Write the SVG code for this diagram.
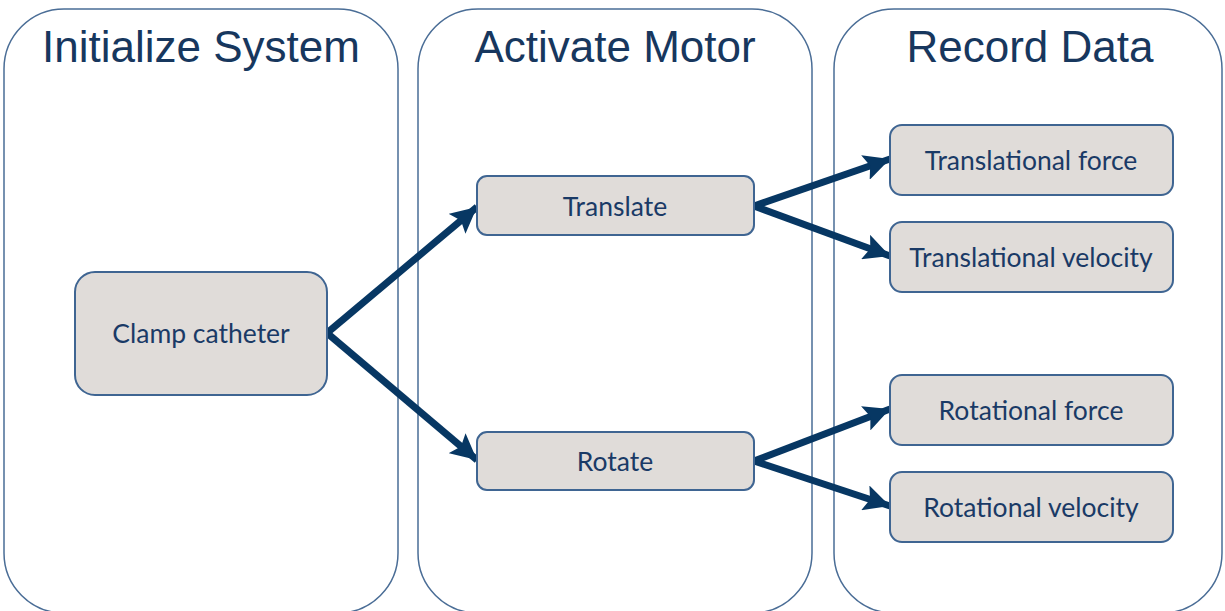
<svg xmlns="http://www.w3.org/2000/svg" width="1225" height="611" viewBox="0 0 1225 611">
  <style>
    .lane { fill: #ffffff; stroke: #4a6d96; stroke-width: 1.5; }
    .lane-title { font-family: "Liberation Sans", Arial, sans-serif; font-size: 44px; fill: #17375e; text-anchor: middle; }
    .box { fill: #e0dcd9; stroke: #3f6592; stroke-width: 2; }
    .label { font-family: Lato, "Open Sans", sans-serif; font-size: 26.5px; fill: #1a3a66; text-anchor: middle; dominant-baseline: central; }
    .edge { fill: none; stroke: #073763; stroke-width: 7; }
  </style>
  <defs>
    <marker id="arrow" markerUnits="userSpaceOnUse" markerWidth="28" markerHeight="26" refX="26" refY="13" orient="auto">
      <path d="M0,0 L26,13 L0,26 L5,13 Z" fill="#073763"/>
    </marker>
  </defs>

  <rect width="1225" height="611" fill="#ffffff"/>

  <!-- swimlanes -->
  <g id="lane-initialize">
    <rect class="lane" x="4" y="9" width="394" height="604" rx="60" ry="60"/>
    <text class="lane-title" x="201" y="62">Initialize System</text>
  </g>
  <g id="lane-activate">
    <rect class="lane" x="418" y="9" width="394" height="604" rx="60" ry="60"/>
    <text class="lane-title" x="615" y="62">Activate Motor</text>
  </g>
  <g id="lane-record">
    <rect class="lane" x="834" y="9" width="388" height="604" rx="60" ry="60"/>
    <text class="lane-title" x="1030" y="62">Record Data</text>
  </g>

  <!-- connectors -->
  <g id="connectors">
    <line class="edge" x1="327" y1="333" x2="477" y2="207" marker-end="url(#arrow)"/>
    <line class="edge" x1="327" y1="333" x2="477" y2="460" marker-end="url(#arrow)"/>
    <line class="edge" x1="754" y1="206" x2="890" y2="159" marker-end="url(#arrow)"/>
    <line class="edge" x1="754" y1="206" x2="890" y2="256" marker-end="url(#arrow)"/>
    <line class="edge" x1="754" y1="461" x2="890" y2="409" marker-end="url(#arrow)"/>
    <line class="edge" x1="754" y1="461" x2="890" y2="506" marker-end="url(#arrow)"/>
  </g>

  <!-- nodes -->
  <g id="clamp-catheter">
    <rect class="box" x="75" y="272" width="252" height="123" rx="20" ry="20"/>
    <text class="label" x="201" y="333">Clamp catheter</text>
  </g>
  <g id="translate">
    <rect class="box" x="477" y="176" width="277" height="59" rx="10" ry="10"/>
    <text class="label" x="615" y="206">Translate</text>
  </g>
  <g id="rotate">
    <rect class="box" x="477" y="432" width="277" height="58" rx="10" ry="10"/>
    <text class="label" x="615" y="461">Rotate</text>
  </g>
  <g id="translational-force">
    <rect class="box" x="890" y="125" width="283" height="70" rx="12" ry="12"/>
    <text class="label" x="1031" y="160">Translational force</text>
  </g>
  <g id="translational-velocity">
    <rect class="box" x="890" y="222" width="283" height="70" rx="12" ry="12"/>
    <text class="label" x="1031" y="257">Translational velocity</text>
  </g>
  <g id="rotational-force">
    <rect class="box" x="890" y="375" width="283" height="70" rx="12" ry="12"/>
    <text class="label" x="1031" y="410">Rotational force</text>
  </g>
  <g id="rotational-velocity">
    <rect class="box" x="890" y="472" width="283" height="70" rx="12" ry="12"/>
    <text class="label" x="1031" y="507">Rotational velocity</text>
  </g>
</svg>
